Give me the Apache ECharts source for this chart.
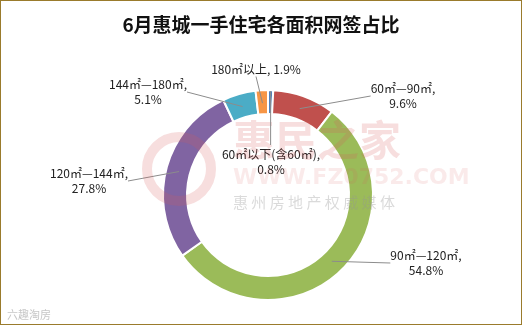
<!DOCTYPE html>
<html><head><meta charset="utf-8">
<script src="https://cdn.jsdelivr.net/npm/echarts@6/dist/echarts.min.js"></script>
<style>html,body{margin:0;padding:0;background:#fff}#c{width:522px;height:325px;box-sizing:border-box;border:1px solid #9a7b2c;}</style>
</head><body><div id="c"></div>
<script>
const categories = ['60㎡以下(含60㎡)', '60㎡—90㎡', '90㎡—120㎡', '120㎡—144㎡', '144㎡—180㎡', '180㎡以上'];
const values = [0.8, 9.6, 54.8, 27.8, 5.1, 1.9];
const colors = ['#4F81BD', '#C0504D', '#9BBB59', '#8064A2', '#4BACC6', '#F79646'];
const labelPos = [[270,161],[402,95],[425,262],[88,180],[147,91],[255,68]];
const chart = echarts.init(document.getElementById('c'));
const center = [267,194];
const outerR = 105;
const total = values.reduce((a,b)=>a+b,0);
const midAng = (90 - 360*values[0]/total/2) * Math.PI/180;
const lx = center[0] + (outerR-1)*Math.cos(midAng);
const ly0 = center[1] - (outerR-1)*Math.sin(midAng);
chart.setOption({
  animation:false,
  title:{text:'6月惠城一手住宅各面积网签占比',left:'center',top:9,textStyle:{fontSize:19,fontWeight:'bold',color:'#111',fontFamily:'Noto Sans CJK SC'}},
  graphic:[
    {type:'circle',shape:{cx:178,cy:168,r:32},style:{fill:'none',stroke:'rgba(215,90,90,0.2)',lineWidth:10},z:10},
    {type:'text',left:232,top:118,style:{text:'惠民之家',font:'bold 42px "Noto Sans CJK SC"',fill:'rgba(215,90,90,0.2)'},z:10},
    {type:'text',left:232,top:166,style:{text:'WWW.FZ0752.COM',font:'bold 22px "DejaVu Sans"',fill:'rgba(215,90,90,0.13)'},z:10},
    {type:'text',left:232,top:194,style:{text:'惠 州 房 地 产 权 威 媒 体',font:'15px "Noto Sans CJK SC"',fill:'rgba(150,150,150,0.35)'},z:10},
    {type:'text',left:6,top:308,style:{text:'六趣淘房',font:'11px "Noto Sans CJK SC"',fill:'rgba(160,160,160,0.6)'},z:10},
    {type:'line',shape:{x1:lx,y1:ly0,x2:lx,y2:labelPos[0][1]-17},style:{stroke:'#8c8c8c',lineWidth:1},z:20}
  ],
  series:[{
    type:'pie',
    center:center,
    radius:[81,outerR],
    startAngle:90,
    clockwise:true,
    silent:true,
    itemStyle:{borderColor:'#fff',borderWidth:2},
    label:{show:false},
    labelLine:{show:false},
    data:categories.map((c,i)=>({name:c,value:values[i],itemStyle:{color:colors[i]}}))
  },{
    type:'pie',
    center:center,
    radius:[91,92],
    startAngle:90,
    clockwise:true,
    silent:true,
    z:5,
    avoidLabelOverlap:false,
    itemStyle:{color:'rgba(0,0,0,0)',borderWidth:0},
    label:{show:true,fontSize:12,color:'#222',fontFamily:'Noto Sans CJK SC',lineHeight:15,align:'center',
      formatter:p=> p.dataIndex===5 ? p.name+', '+p.value+'%' : p.name+',\n'+p.value+'%'},
    labelLine:{show:true,lineStyle:{color:'#8c8c8c',width:1},length:0,length2:0},
    labelLayout:function(params){
      const i=params.dataIndex; const pos=labelPos[i];
      return {x:pos[0],y:pos[1],align:'center',verticalAlign:'middle'};
    },
    data:categories.map((c,i)=>({name:c,value:values[i],labelLine:{show:i!==0}}))
  }]
});
</script></body></html>
